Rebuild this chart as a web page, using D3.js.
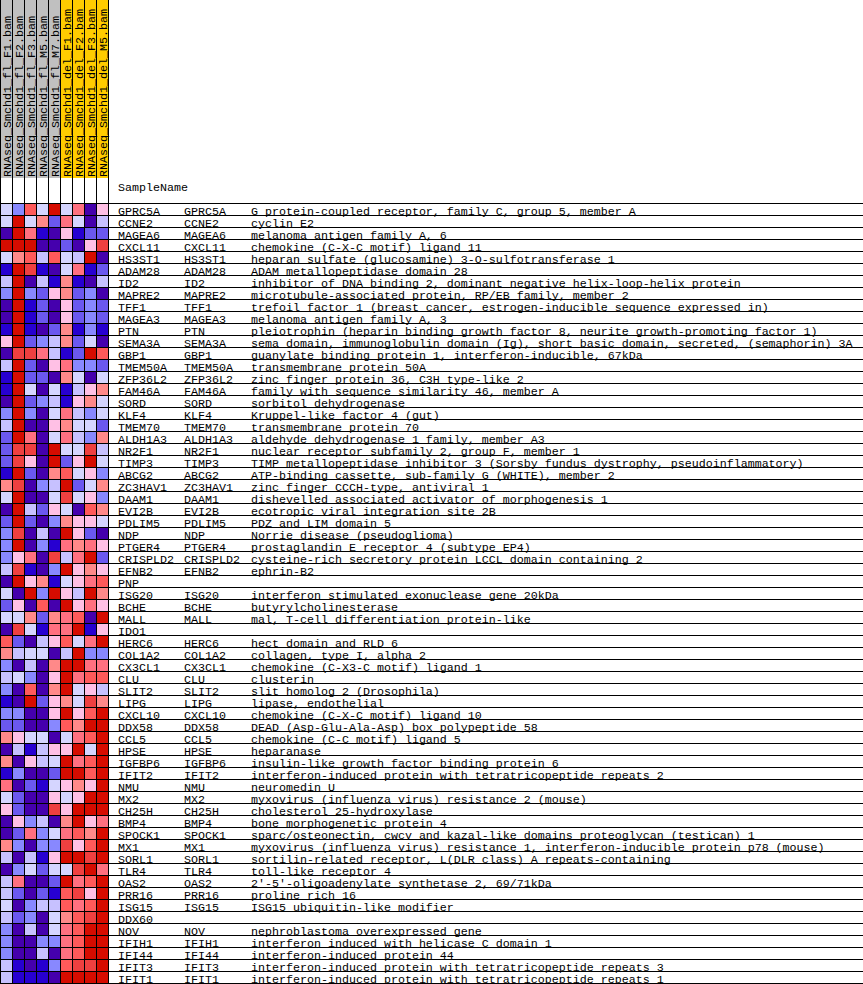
<!DOCTYPE html>
<html>
<head>
<meta charset="utf-8">
<script src="https://cdn.jsdelivr.net/npm/d3@7"></script>
<style>
  body { margin: 0; background: #fff; }
  text { font-family: "Liberation Mono", "DejaVu Sans Mono", monospace; font-size: 11.67px; fill: #000; }
</style>
</head>
<body>
<div id="chart"></div>
<script>
const samples = [
  "RNAseq_Smchd1_fl_F1.bam", "RNAseq_Smchd1_fl_F2.bam", "RNAseq_Smchd1_fl_F3.bam",
  "RNAseq_Smchd1_fl_M5.bam", "RNAseq_Smchd1_fl_M7.bam", "RNAseq_Smchd1_del_F1.bam",
  "RNAseq_Smchd1_del_F2.bam", "RNAseq_Smchd1_del_F3.bam", "RNAseq_Smchd1_del_M5.bam"
];
const sampleGroup = ["fl", "fl", "fl", "fl", "fl", "del", "del", "del", "del"];

const genes = [
  "GPRC5A", "CCNE2", "MAGEA6", "CXCL11", "HS3ST1", "ADAM28", "ID2", "MAPRE2", "TFF1", "MAGEA3",
  "PTN", "SEMA3A", "GBP1", "TMEM50A", "ZFP36L2", "FAM46A", "SORD", "KLF4", "TMEM70", "ALDH1A3",
  "NR2F1", "TIMP3", "ABCG2", "ZC3HAV1", "DAAM1", "EVI2B", "PDLIM5", "NDP", "PTGER4", "CRISPLD2",
  "EFNB2", "PNP", "ISG20", "BCHE", "MALL", "IDO1", "HERC6", "COL1A2", "CX3CL1", "CLU",
  "SLIT2", "LIPG", "CXCL10", "DDX58", "CCL5", "HPSE", "IGFBP6", "IFIT2", "NMU", "MX2",
  "CH25H", "BMP4", "SPOCK1", "MX1", "SORL1", "TLR4", "OAS2", "PRR16", "ISG15", "DDX60",
  "NOV", "IFIH1", "IFI44", "IFIT3", "IFIT1"
];

// genes without a symbol / description in the second and third columns
const unannotated = ["PNP", "IDO1", "DDX60"];

const descriptions = [
  "G protein-coupled receptor, family C, group 5, member A",
  "cyclin E2",
  "melanoma antigen family A, 6",
  "chemokine (C-X-C motif) ligand 11",
  "heparan sulfate (glucosamine) 3-O-sulfotransferase 1",
  "ADAM metallopeptidase domain 28",
  "inhibitor of DNA binding 2, dominant negative helix-loop-helix protein",
  "microtubule-associated protein, RP/EB family, member 2",
  "trefoil factor 1 (breast cancer, estrogen-inducible sequence expressed in)",
  "melanoma antigen family A, 3",
  "pleiotrophin (heparin binding growth factor 8, neurite growth-promoting factor 1)",
  "sema domain, immunoglobulin domain (Ig), short basic domain, secreted, (semaphorin) 3A",
  "guanylate binding protein 1, interferon-inducible, 67kDa",
  "transmembrane protein 50A",
  "zinc finger protein 36, C3H type-like 2",
  "family with sequence similarity 46, member A",
  "sorbitol dehydrogenase",
  "Kruppel-like factor 4 (gut)",
  "transmembrane protein 70",
  "aldehyde dehydrogenase 1 family, member A3",
  "nuclear receptor subfamily 2, group F, member 1",
  "TIMP metallopeptidase inhibitor 3 (Sorsby fundus dystrophy, pseudoinflammatory)",
  "ATP-binding cassette, sub-family G (WHITE), member 2",
  "zinc finger CCCH-type, antiviral 1",
  "dishevelled associated activator of morphogenesis 1",
  "ecotropic viral integration site 2B",
  "PDZ and LIM domain 5",
  "Norrie disease (pseudoglioma)",
  "prostaglandin E receptor 4 (subtype EP4)",
  "cysteine-rich secretory protein LCCL domain containing 2",
  "ephrin-B2",
  "",
  "interferon stimulated exonuclease gene 20kDa",
  "butyrylcholinesterase",
  "mal, T-cell differentiation protein-like",
  "",
  "hect domain and RLD 6",
  "collagen, type I, alpha 2",
  "chemokine (C-X3-C motif) ligand 1",
  "clusterin",
  "slit homolog 2 (Drosophila)",
  "lipase, endothelial",
  "chemokine (C-X-C motif) ligand 10",
  "DEAD (Asp-Glu-Ala-Asp) box polypeptide 58",
  "chemokine (C-C motif) ligand 5",
  "heparanase",
  "insulin-like growth factor binding protein 6",
  "interferon-induced protein with tetratricopeptide repeats 2",
  "neuromedin U",
  "myxovirus (influenza virus) resistance 2 (mouse)",
  "cholesterol 25-hydroxylase",
  "bone morphogenetic protein 4",
  "sparc/osteonectin, cwcv and kazal-like domains proteoglycan (testican) 1",
  "myxovirus (influenza virus) resistance 1, interferon-inducible protein p78 (mouse)",
  "sortilin-related receptor, L(DLR class) A repeats-containing",
  "toll-like receptor 4",
  "2'-5'-oligoadenylate synthetase 2, 69/71kDa",
  "proline rich 16",
  "ISG15 ubiquitin-like modifier",
  "",
  "nephroblastoma overexpressed gene",
  "interferon induced with helicase C domain 1",
  "interferon-induced protein 44",
  "interferon-induced protein with tetratricopeptide repeats 3",
  "interferon-induced protein with tetratricopeptide repeats 1"
];

// colour level per cell (0 = strongest blue ... 11 = strongest red), one row per gene
const levels = [
  [5,3,9,5,11,5,8,0,6],
  [5,11,5,7,2,8,5,0,4],
  [0,11,8,1,0,6,1,2,2],
  [11,11,11,0,0,2,0,6,10],
  [5,7,9,4,9,5,4,11,0],
  [1,11,10,1,0,5,8,1,2],
  [4,11,0,4,1,7,1,0,4],
  [3,11,3,2,6,7,2,3,0],
  [0,11,1,2,0,6,2,3,2],
  [0,11,1,2,0,6,2,3,2],
  [1,11,1,0,2,7,1,3,1],
  [6,11,2,3,4,7,2,5,0],
  [0,10,10,8,4,1,2,11,9],
  [4,11,2,0,6,8,3,3,2],
  [1,11,2,2,0,7,5,0,5],
  [1,11,5,0,5,1,4,6,7],
  [0,11,2,3,4,1,6,7,5],
  [3,11,3,0,5,8,4,3,5],
  [4,11,0,0,6,7,5,5,2],
  [2,11,8,0,5,8,4,3,7],
  [2,10,10,0,11,5,5,10,4],
  [2,10,6,0,11,2,6,11,5],
  [1,11,2,0,7,9,5,6,3],
  [7,10,0,3,4,11,2,5,7],
  [5,11,0,0,5,10,5,6,3],
  [0,11,4,2,6,5,0,9,7],
  [2,11,2,0,3,7,6,6,5],
  [3,10,0,4,0,11,6,2,0],
  [3,11,0,3,1,8,7,8,6],
  [3,6,8,0,10,4,8,11,2],
  [4,10,1,0,3,11,6,7,6],
  [0,11,6,7,1,5,6,8,9],
  [5,0,11,3,11,6,4,11,7],
  [2,6,0,9,0,11,6,8,6],
  [5,5,7,2,7,8,9,0,11],
  [0,10,5,1,8,8,11,1,6],
  [9,2,0,4,6,9,5,8,11],
  [7,4,5,5,0,4,11,3,3],
  [3,0,4,0,7,11,11,8,8],
  [4,5,3,0,6,11,8,9,9],
  [3,0,9,0,7,11,5,6,4],
  [1,0,11,2,6,7,5,10,7],
  [3,3,0,0,6,11,6,9,11],
  [2,2,0,0,3,9,7,11,11],
  [7,6,5,5,0,5,8,9,11],
  [0,4,1,4,6,6,11,5,11],
  [7,0,6,4,5,11,8,9,11],
  [1,3,0,0,2,11,11,9,11],
  [8,0,2,1,5,6,7,6,11],
  [5,2,0,0,6,5,6,11,11],
  [6,2,0,0,10,6,11,11,11],
  [0,6,3,4,0,7,11,6,8],
  [0,2,8,3,5,8,9,7,11],
  [7,3,0,3,3,10,6,9,11],
  [4,0,4,1,6,11,11,10,11],
  [0,3,5,2,5,5,10,11,8],
  [4,8,0,0,2,11,8,9,11],
  [4,2,0,2,1,9,10,6,11],
  [5,0,3,4,4,9,8,9,11],
  [4,2,3,0,5,7,9,10,11],
  [3,0,4,0,5,8,9,11,11],
  [3,0,0,3,3,8,9,11,11],
  [3,0,0,4,0,8,9,11,11],
  [4,1,0,1,3,9,10,10,11],
  [4,1,1,1,0,11,11,11,11]
];

const palette = ["#4500AD", "#2700D1", "#6B58EF", "#8888FF", "#C7C1FF", "#D5D5FF",
                 "#FFC0E5", "#FF8989", "#FF7080", "#FF5A5A", "#EF4040", "#D60C00"];

const W = 863, H = 984;
const cell = 12;
const headerH = 178, gridTop = 203;

const svg = d3.select("#chart").append("svg")
    .attr("width", W)
    .attr("height", H);

const x = d3.scaleBand().domain(samples).range([0, samples.length * cell]);
const y = d3.scaleBand().domain(genes).range([gridTop, gridTop + genes.length * cell]);
const color = d3.scaleOrdinal().domain(d3.range(palette.length)).range(palette);
const groupColor = d3.scaleOrdinal().domain(["fl", "del"]).range(["#C0C0C0", "#FFCC00"]);

// header columns
const head = svg.append("g");
head.selectAll("rect.hdr")
    .data(samples)
    .enter().append("rect")
    .attr("class", "hdr")
    .attr("x", d => x(d))
    .attr("y", 0)
    .attr("width", x.bandwidth())
    .attr("height", headerH)
    .attr("fill", (d, i) => groupColor(sampleGroup[i]));

head.selectAll("line.vsep")
    .data(d3.range(samples.length + 1))
    .enter().append("line")
    .attr("class", "vsep")
    .attr("x1", i => i * cell + 0.5)
    .attr("x2", i => i * cell + 0.5)
    .attr("y1", 0)
    .attr("y2", gridTop)
    .attr("stroke", "#000");

head.selectAll("text.sample")
    .data(samples)
    .enter().append("text")
    .attr("class", "sample")
    .attr("transform", d => `translate(${x(d) + 11}, ${headerH - 1}) rotate(-90)`)
    .text(d => d);

svg.append("text")
    .attr("x", 118)
    .attr("y", 191)
    .text("SampleName");

// row separator lines across the label area
svg.append("g").selectAll("line")
    .data(d3.range(genes.length + 1))
    .enter().append("line")
    .attr("x1", x.range()[1])
    .attr("x2", W)
    .attr("y1", i => gridTop + i * cell + 0.5)
    .attr("y2", i => gridTop + i * cell + 0.5)
    .attr("stroke", "#000");

// heatmap cells
const cells = [];
genes.forEach((g, r) => samples.forEach((s, c) => cells.push({ g, s, v: levels[r][c] })));

svg.append("g").selectAll("rect")
    .data(cells)
    .enter().append("rect")
    .attr("x", d => x(d.s) + 0.5)
    .attr("y", d => y(d.g) + 0.5)
    .attr("width", x.bandwidth())
    .attr("height", y.bandwidth())
    .attr("fill", d => color(d.v))
    .attr("stroke", "#000");

svg.append("line")
    .attr("x1", x.range()[1] + 0.5).attr("x2", x.range()[1] + 0.5)
    .attr("y1", 0).attr("y2", H)
    .attr("stroke", "#000");

// row labels
const rows = svg.append("g").selectAll("g")
    .data(genes)
    .enter().append("g")
    .attr("transform", d => `translate(0, ${y(d) + 11.5})`);

rows.append("text").attr("x", 118).text(d => d);
rows.append("text").attr("x", 184).text(d => unannotated.includes(d) ? "" : d);
rows.append("text").attr("x", 251).text((d, i) => descriptions[i]);
</script>
</body>
</html>
